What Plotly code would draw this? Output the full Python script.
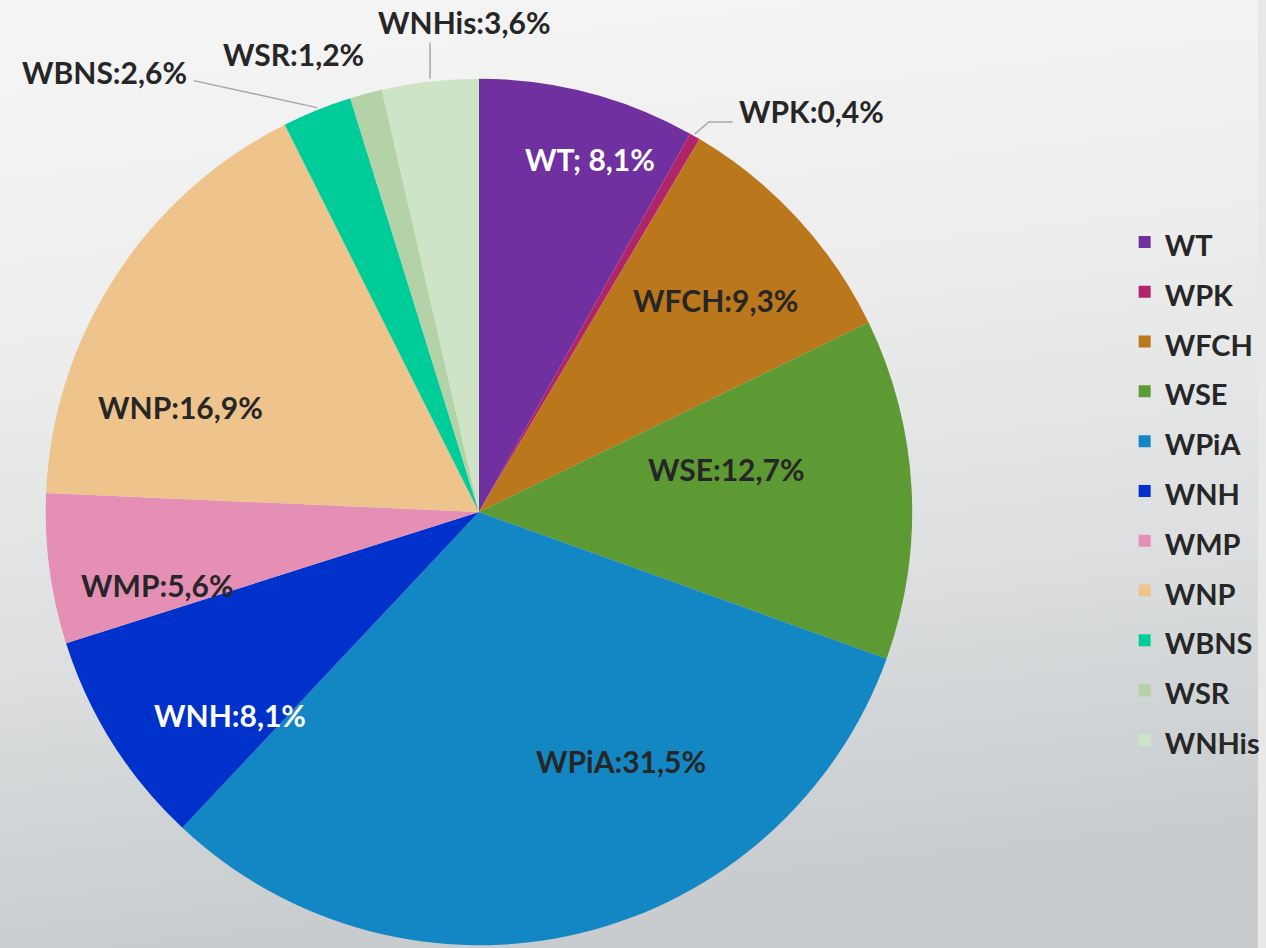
import math
import base64
import plotly.graph_objects as go

# ---- data ----
labels = ["WT", "WPK", "WFCH", "WSE", "WPiA", "WNH", "WMP", "WNP", "WBNS", "WSR", "WNHis"]
values = [8.1, 0.4, 9.3, 12.7, 31.5, 8.1, 5.6, 16.9, 2.6, 1.2, 3.6]
text_labels = ["WT; 8,1%", "WPK:0,4%", "WFCH:9,3%", "WSE:12,7%", "WPiA:31,5%", "WNH:8,1%",
               "WMP:5,6%", "WNP:16,9%", "WBNS:2,6%", "WSR:1,2%", "WNHis:3,6%"]
colors = ["#7030a0", "#b0256a", "#bb771b", "#5e9a33", "#1387c4", "#0032cb",
          "#e58fb5", "#eec48c", "#00cc99", "#b3d2a8", "#cde5c6"]

# ---- layout / style constants ----
W, H = 1266, 948
CX_PX, CY_PX, R_PX = 482, 512, 436
FONT = "Lato"
DARK = "#262626"
LABEL_SIZE = 30

x0 = (CX_PX - R_PX) / W
x1 = (CX_PX + R_PX) / W
y0 = 1 - (CY_PX + R_PX) / H
y1 = 1 - (CY_PX - R_PX) / H

# inside labels: (radial fraction, angular offset in degrees) relative to the slice mid-angle
inside_place = {
    "WT": (0.85, 3.0), "WFCH": (0.73, 1.0), "WSE": (0.58, -6.7), "WPiA": (0.66, -16.4),
    "WNH": (0.74, -6.8), "WMP": (0.76, -5.2), "WNP": (0.73, -13.7),
}
white_text = {"WT", "WNH"}
# outside labels: text shift (px) and leader-line path offsets (px) from the slice edge point
outside_place = {
    "WPK": ((117, -23), [(14, -12), (38, -12)]),
    "WBNS": ((-214, -36), [(-124, -27)]),
    "WSR": ((-73, -37), []),
    "WNHis": ((35, -57), [(0, -36)]),
}

fig = go.Figure(go.Pie(
    labels=[f"<span style='font-size:29px'>{l}</span>" for l in labels],
    values=values,
    text=text_labels,
    textinfo="none",
    hovertemplate="%{text}<extra></extra>",
    marker=dict(colors=colors, line=dict(width=0)),
    sort=False,
    direction="clockwise",
    rotation=0,
    domain=dict(x=[x0, x1], y=[y0, y1]),
))


def to_paper(px, py):
    return px / W, 1 - py / H


total = sum(values)
cum = 0.0
annotations, shapes = [], []
for lab, val, txt in zip(labels, values, text_labels):
    mid = (cum + val / 2) / total
    cum += val
    theta = 2 * math.pi * mid
    if lab in inside_place:
        f, dth = inside_place[lab]
        t = theta + math.radians(dth)
        px = CX_PX + f * R_PX * math.sin(t)
        py = CY_PX - f * R_PX * math.cos(t)
        x, y = to_paper(px, py)
        annotations.append(dict(
            x=x, y=y, xref="paper", yref="paper", text=txt, showarrow=False,
            xanchor="center", yanchor="middle",
            font=dict(family=FONT, size=LABEL_SIZE, weight="bold",
                      color="white" if lab in white_text else DARK)))
    elif lab in outside_place:
        ex = CX_PX + R_PX * math.sin(theta)
        ey = CY_PX - R_PX * math.cos(theta)
        (sx, sy), path_pts = outside_place[lab]
        x, y = to_paper(ex + sx, ey + sy)
        annotations.append(dict(
            x=x, y=y, xref="paper", yref="paper", text=txt, showarrow=False,
            xanchor="center", yanchor="middle",
            font=dict(family=FONT, size=LABEL_SIZE, weight="bold", color=DARK)))
        if path_pts:
            pts = [(ex, ey)] + [(ex + dx, ey + dy) for dx, dy in path_pts]
            path = "M " + " L ".join(f"{to_paper(a, b)[0]:.5f},{to_paper(a, b)[1]:.5f}" for a, b in pts)
            shapes.append(dict(type="path", path=path, xref="paper", yref="paper",
                               line=dict(color="#a6a6a6", width=1.5)))

# ---- background gradient ----
svg = f"""<svg xmlns='http://www.w3.org/2000/svg' width='{W}' height='{H}'>
<defs><linearGradient id='g' x1='0' y1='0' x2='0.15' y2='1'>
<stop offset='0' stop-color='#f5f5f5'/>
<stop offset='0.35' stop-color='#eeeeee'/>
<stop offset='0.7' stop-color='#dcdedf'/>
<stop offset='1' stop-color='#c8cccf'/>
</linearGradient></defs>
<rect width='100%' height='100%' fill='url(#g)'/></svg>"""
bg = "data:image/svg+xml;base64," + base64.b64encode(svg.encode()).decode()

fig.update_layout(
    width=W, height=H,
    autosize=False,
    margin=dict(l=0, r=0, t=0, b=0),
    paper_bgcolor="#e8e8e8",
    plot_bgcolor="rgba(0,0,0,0)",
    images=[dict(source=bg, xref="paper", yref="paper", x=0, y=1, sizex=1, sizey=1,
                 xanchor="left", yanchor="top", sizing="stretch", layer="below")],
    annotations=annotations,
    shapes=shapes,
    showlegend=True,
    legend=dict(x=0.894, y=0.482, xanchor="left", yanchor="middle",
                bgcolor="rgba(0,0,0,0)",
                font=dict(family=FONT, size=36, color=DARK, weight="bold")),
)

fig.write_html(
    "out.html",
    config={"displayModeBar": False, "responsive": False},
    post_script=("document.body.style.margin='0';"
                 "document.body.style.overflow='hidden';"
                 "document.documentElement.style.overflow='hidden';"
                 "document.body.style.background='transparent';"
                 "document.documentElement.style.background="
                 "'linear-gradient(#f5f5f5 0%, #eeeeee 35%, #dcdedf 70%, #c8cccf 100%)';"
                 "document.documentElement.style.minHeight='100%';"),
)
